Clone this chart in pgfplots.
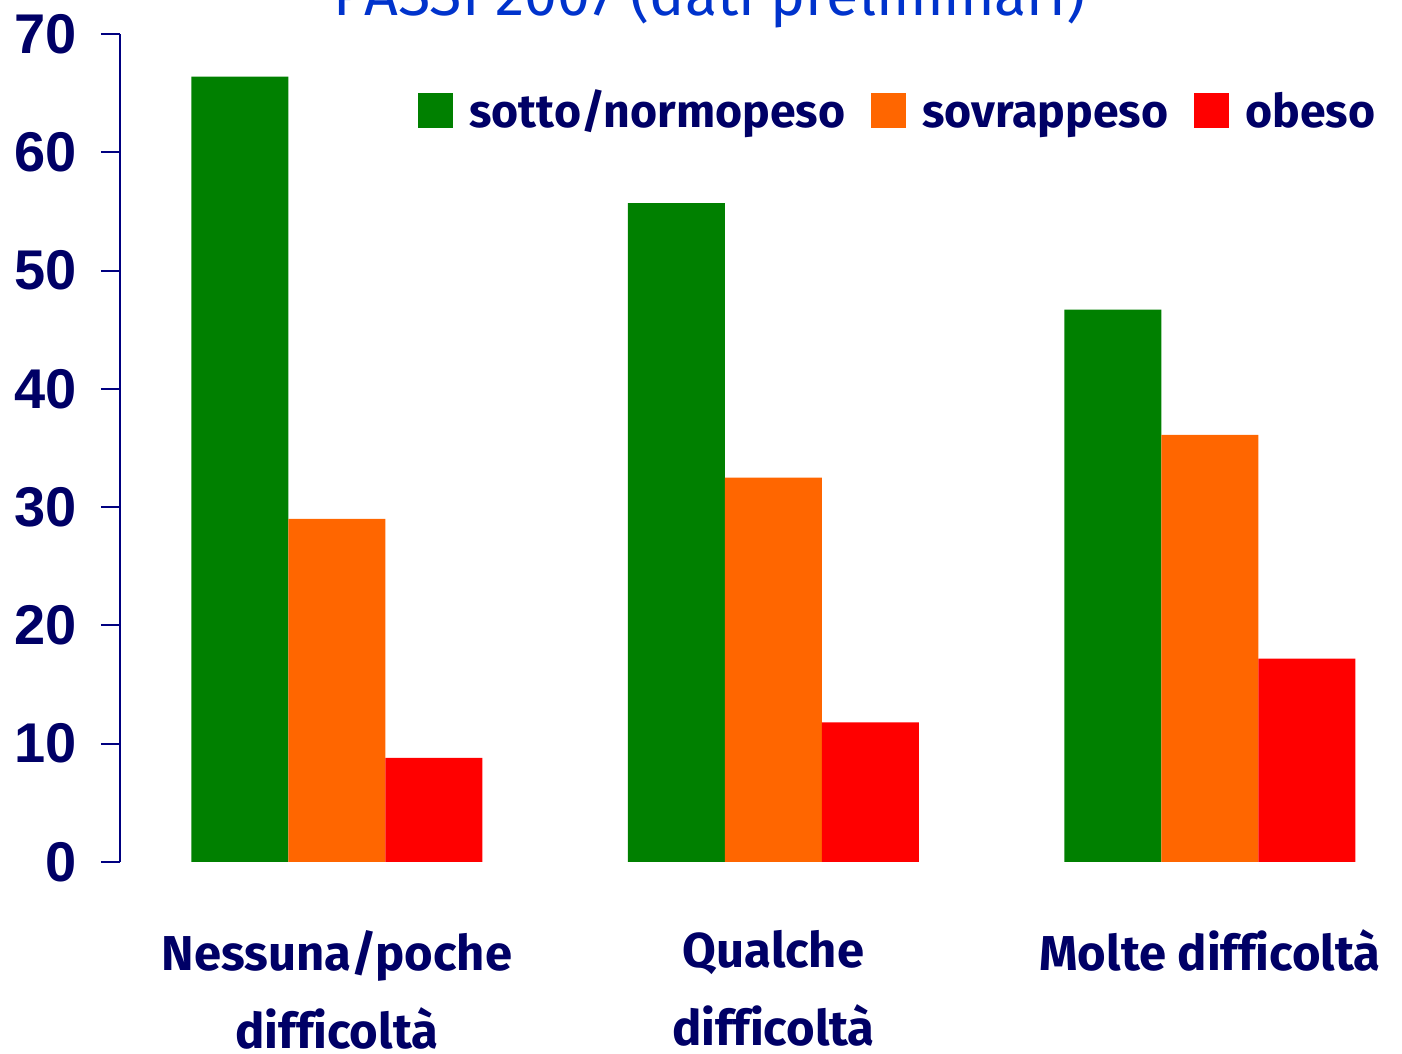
\documentclass[border=0pt]{standalone}
\usepackage{fontspec}
\setmainfont{Liberation Sans}
\newfontfamily\labfont[Ligatures={NoCommon}]{Fira Sans}
\usepackage{pgfplots}
\pgfplotsset{compat=1.18}
\definecolor{cgreen}{HTML}{008000}
\definecolor{corange}{HTML}{FF6600}
\definecolor{cred}{HTML}{FF0000}
\definecolor{navytxt}{HTML}{000066}
\definecolor{navyax}{HTML}{000080}
\definecolor{titleblue}{HTML}{0033CC}
\begin{document}
\begin{tikzpicture}
\begin{axis}[
  scale only axis, width=641pt, height=414pt,
  xmin=-0.497, xmax=2.44, ymin=0, ymax=70,
  clip=false,
  axis lines=left,
  axis line style={-, draw=navyax, line width=1pt},
  x axis line style={draw=none},
  xtick={0,1,2},
  xticklabels={{Nessuna/poche\\difficoltà},{Qualche\\difficoltà},{Molte difficoltà}},
  ytick={0,10,...,70},
  tick align=outside,
  major tick length=9.5pt,
  x tick style={draw=none},
  y tick style={draw=navyax, line width=1pt},
  /pgf/number format/assume math mode=true,
  yticklabel style={font=\fontsize{28}{28}\selectfont\bfseries, text=navytxt, xshift=-8.7pt},
  xticklabel style={font=\labfont\fontsize{24.5}{39}\selectfont\bfseries, text=navytxt, align=center, anchor=north, yshift=-21pt},
  ybar=0pt, bar width=48.5pt,
  legend columns=3,
  legend style={at={(0.2325,0.908)}, anchor=west, draw=none, fill=none, inner sep=0pt,
    nodes={inner xsep=0pt},
    font=\labfont\fontsize{23.2}{23.2}\selectfont\bfseries, text=navytxt,
    /tikz/every odd column/.append style={column sep=8pt},
    /tikz/every even column/.append style={column sep=13pt}},
  legend image code/.code={\fill[#1] (0pt,-8.75pt) rectangle (17.5pt,8.75pt);},
]
\addplot[fill=cgreen, draw=none] coordinates {(0,66.4) (1,55.7) (2,46.7)};
\addplot[fill=corange, draw=none] coordinates {(0,29.0) (1,32.5) (2,36.1)};
\addplot[fill=cred, draw=none] coordinates {(0,8.8) (1,11.8) (2,17.2)};
\legend{sotto/normopeso, \vphantom{/}sovrappeso, \vphantom{/}obeso}
\coordinate (bl) at (rel axis cs:0,0);
\coordinate (tr) at (rel axis cs:1,1);
\node[anchor=base, font=\labfont\fontsize{29.5}{29.5}\selectfont, text=titleblue] at ([yshift=9pt]rel axis cs:0.46,1) {PASSI 2007 (dati preliminari)};
\end{axis}
\pgfresetboundingbox
\path[use as bounding box] ([shift={(-60pt,-96pt)}]bl) rectangle ([shift={(0pt,17pt)}]tr);
\end{tikzpicture}
\end{document}
